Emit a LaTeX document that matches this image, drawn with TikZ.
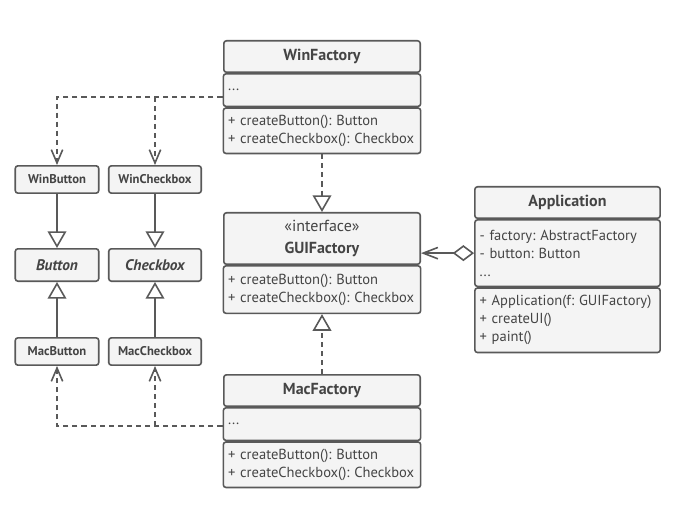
\documentclass[tikz,border=0pt]{standalone}
\usepackage{fontspec}
\setmainfont{PT Sans}
\frenchspacing
\hyphenpenalty=10000
\usetikzlibrary{positioning,arrows.meta}
\definecolor{linegray}{HTML}{595959}
\definecolor{boxgray}{HTML}{F4F4F4}
\definecolor{textgray}{HTML}{444444}
\tikzset{
  box/.style={draw=linegray,fill=boxgray,line width=1.2pt,rounded corners=2pt,text=textgray,inner xsep=3.5pt,inner ysep=2pt},
  clshead/.style={box,minimum width=147.3pt,align=center,font=\fontsize{12}{16.5}\selectfont\bfseries},
  clsbody/.style={box,text width=141pt,align=left,font=\fontsize{10.9}{13.6}\selectfont},
  prodbox/.style={box,minimum height=20.5pt,font=\fontsize{9.5}{11}\selectfont\bfseries},
  absbox/.style={box,minimum height=24.3pt,font=\fontsize{11.5}{12}\selectfont\bfseries\itshape},
  dep/.style={draw=linegray,line width=1.2pt,dash pattern=on 3.8pt off 3pt,-{Straight Barb[length=10pt,width=8.5pt]}},
  inh/.style={draw=linegray,line width=1.2pt,-{Triangle[open,length=12.5pt,width=14pt]}},
  real/.style={inh,dash pattern=on 3.8pt off 3pt},
  agg/.style={draw=linegray,line width=1.2pt,{Diamond[open,length=16pt,width=12pt]}-{Straight Barb[length=11pt,width=8.5pt]}}
}
\begin{document}
\begin{tikzpicture}[x=0.75pt,y=-0.75pt]
\useasboundingbox (0,0) rectangle (681,513);
%WinFactory
\node at (322,40) [clshead,anchor=north,minimum height=23.6pt] (winT) {WinFactory};
\node [clsbody,below=0pt of winT,minimum height=24.4pt] (winA) {...};
\node [clsbody,below=0pt of winA,minimum height=34.1pt] (winM) {+ createButton(): Button\\+ createCheckbox(): Checkbox};
%GUIFactory
\node at (322,212) [clshead,anchor=north,minimum height=38.6pt,font=\fontsize{12}{16.5}\selectfont] (guiT) {«interface»\\\textbf{GUIFactory}};
\node [clsbody,below=0pt of guiT,minimum height=35.6pt] (guiM) {+ createButton(): Button\\+ createCheckbox(): Checkbox};
%MacFactory
\node at (322,374) [clshead,anchor=north,minimum height=23.6pt] (macT) {MacFactory};
\node [clsbody,below=0pt of macT,minimum height=24.4pt] (macA) {...};
\node [clsbody,below=0pt of macA,minimum height=34.1pt] (macM) {+ createButton(): Button\\+ createCheckbox(): Checkbox};
%Application
\node at (567.5,186) [clshead,anchor=north,minimum width=139pt,minimum height=23.6pt] (appT) {Application};
\node [clsbody,below=0pt of appT,text width=132pt,minimum height=49.9pt] (appA) {- factory: AbstractFactory\\- button: Button\\...};
\node [clsbody,below=0pt of appA,text width=132pt,minimum height=48.4pt] (appM) {+ Application(f: GUIFactory)\\+ createUI()\\+ paint()};
%Products
\node at (57,179.5) [prodbox,minimum width=62.6pt] (winbtn) {WinButton};
\node at (155,179.5) [prodbox,minimum width=69.4pt] (wincb) {WinCheckbox};
\node at (57,265) [absbox,minimum width=62.6pt] (btn) {Button};
\node at (155,265) [absbox,minimum width=69.4pt] (cb) {Checkbox};
\node at (57,351.5) [prodbox,minimum width=62.6pt] (macbtn) {MacButton};
\node at (155,351.5) [prodbox,minimum width=69.4pt] (maccb) {MacCheckbox};
%connections
\coordinate (winout) at ([yshift=-5pt]winA.west);
\coordinate (macout) at ([yshift=-1.5pt]macA.west);
\draw [dep] (winout) -| (winbtn);
\draw [dep] (winout -| wincb) -- (wincb);
\draw [dep] (macout) -| (macbtn);
\draw [dep] (macout -| maccb) -- (maccb);
\draw [inh] (winbtn) -- (btn);
\draw [inh] (wincb) -- (cb);
\draw [inh] (macbtn) -- (btn);
\draw [inh] (maccb) -- (cb);
\draw [real] (winM) -- (guiT);
\draw [real] (macT) -- (guiM);
\draw [agg] (appA.west) -- (appA.west -| guiT.east);
\end{tikzpicture}
\end{document}
